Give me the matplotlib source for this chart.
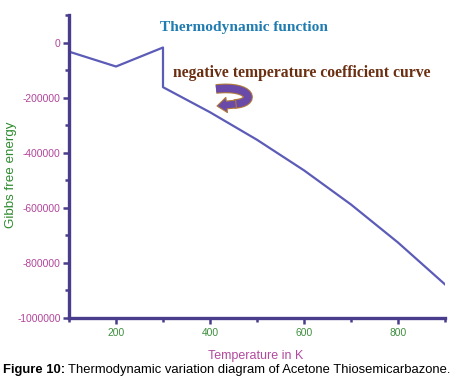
import matplotlib
matplotlib.use("Agg")
import matplotlib.pyplot as plt
from matplotlib.patches import FancyArrowPatch, PathPatch
from matplotlib.path import Path

plt.rcParams["font.family"] = ["Liberation Sans", "DejaVu Sans"]

# data
temperature = [100, 200, 300, 300, 400, 500, 600, 700, 800, 900]
gibbs = [-33000, -87000, -18000, -162000, -253000, -353000, -464000, -588000, -726000, -878000]

x_ticks = [200, 400, 600, 800]
y_ticks = [0, -200000, -400000, -600000, -800000, -1000000]

spine_col = "#4a3c8c"
line_col = "#5c5cb8"
ytick_col = "#b2459a"
xtick_col = "#3f8f3f"

W, H = 458, 390
fig = plt.figure(figsize=(W / 100, H / 100), dpi=100)
ax = fig.add_axes([69 / W, 1 - 318 / H, (445 - 69) / W, (318 - 15) / H])

ax.plot(temperature, gibbs, color=line_col, lw=1.6)

ax.set_xlim(100, 900)
ax.set_ylim(-1000000, 100000)
ax.set_xticks(x_ticks)
ax.set_xticks([100, 300, 500, 700, 900], minor=True)
ax.set_yticks(y_ticks)
ax.set_yticks([100000, -100000, -300000, -500000, -700000, -900000], minor=True)
ax.set_xticklabels([str(v) for v in x_ticks])
ax.set_yticklabels([str(v) for v in y_ticks])

for s in ["top", "right"]:
    ax.spines[s].set_visible(False)
for s in ["left", "bottom"]:
    ax.spines[s].set_color(spine_col)
    ax.spines[s].set_linewidth(2.4)

ax.tick_params(axis="both", which="major", length=4, width=1.8, color=spine_col, pad=2)
ax.tick_params(axis="both", which="minor", length=3, width=1.8, color=spine_col)
ax.tick_params(axis="x", labelsize=7.4, labelcolor=xtick_col, pad=3)
ax.tick_params(axis="y", labelsize=7.4, labelcolor=ytick_col)

ax.set_ylabel("Gibbs free energy", color="#2e8b2e", fontsize=9.6)
ax.yaxis.set_label_coords(-0.139, 0.472)
ax.set_xlabel("Temperature in K", color="#b24a9e", fontsize=9)
ax.xaxis.set_label_coords(0.497, -0.104)

# texts on the chart
fig.text(244 / W, 1 - 28 / H, "Thermodynamic function", family="Liberation Serif",
         weight="bold", fontsize=11.1, color="#1f7bb0", ha="center", va="center")
fig.text(302 / W, 1 - 73 / H, "negative temperature coefficient curve", family="Liberation Serif",
         weight="bold", fontsize=11.3, color="#6a2e10", ha="center", va="center")


def fp(x, y):
    # pixel position (from top-left) -> figure fraction
    return (x / W, 1 - y / H)


# curved U-turn arrow: thick band + arrow head pointing left
band = Path([fp(216, 89), fp(252, 85), fp(257, 103), fp(234, 104)],
            [Path.MOVETO, Path.CURVE4, Path.CURVE4, Path.CURVE4])
for col, lw in [("#b07a3a", 7.0), ("#6a4aa8", 5.4)]:
    fig.patches.append(PathPatch(band, transform=fig.transFigure, fill=False,
                                 edgecolor=col, lw=lw, capstyle="butt"))
head = FancyArrowPatch(fp(236, 104), fp(217, 106), transform=fig.transFigure,
                       arrowstyle="simple,head_width=11,head_length=7,tail_width=5.6",
                       mutation_scale=1, facecolor="#6a4aa8", edgecolor="#b07a3a",
                       lw=0.8, shrinkA=0, shrinkB=0)
fig.patches.append(head)

# caption
t1 = fig.text(3 / W, 1 - 370 / H, "Figure 10:", weight="bold", fontsize=9.4, color="black",
              va="center", ha="left")
fig.canvas.draw()
bb = t1.get_window_extent()
fig.text((bb.x1 + 3) / W, 1 - 370 / H, "Thermodynamic variation diagram of Acetone Thiosemicarbazone.",
         fontsize=9.4, color="black", va="center", ha="left")

fig.savefig("out.png", dpi=100)
